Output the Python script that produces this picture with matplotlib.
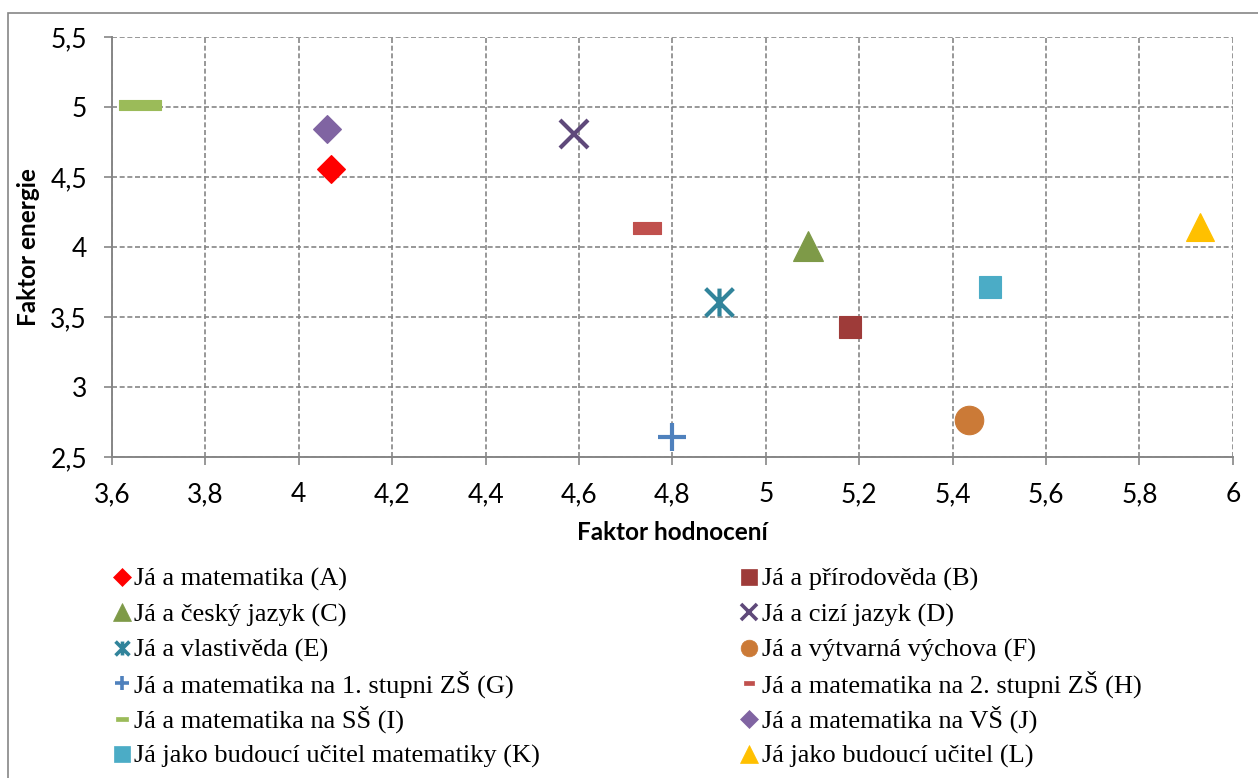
import matplotlib.pyplot as plt
from matplotlib.lines import Line2D
from matplotlib.patches import Rectangle
from matplotlib.path import Path
from matplotlib.ticker import MultipleLocator, FuncFormatter

# data
labels = ['Já a matematika (A)', 'Já a přírodověda (B)', 'Já a český jazyk (C)',
          'Já a cizí jazyk (D)', 'Já a vlastivěda (E)', 'Já a výtvarná výchova (F)',
          'Já a matematika na 1. stupni ZŠ (G)', 'Já a matematika na 2. stupni ZŠ (H)',
          'Já a matematika na SŠ (I)', 'Já a matematika na VŠ (J)',
          'Já jako budoucí učitel matematiky (K)', 'Já jako budoucí učitel (L)']
hodnoceni = [4.07, 5.18, 5.09, 4.59, 4.90, 5.435, 4.80, 4.745, 3.66, 4.06, 5.48, 5.93]
energie = [4.56, 3.43, 4.01, 4.81, 3.61, 2.765, 2.645, 4.135, 5.015, 4.84, 3.715, 4.145]

# custom marker shapes
asterisk = Path([(-1, -1), (1, 1), (-1, 1), (1, -1), (0, -1), (0, 1)],
                [Path.MOVETO, Path.LINETO, Path.MOVETO, Path.LINETO, Path.MOVETO, Path.LINETO])
def bar_marker(h):
    return Path([(-1, -h), (1, -h), (1, h), (-1, h), (-1, -h)],
                [Path.MOVETO, Path.LINETO, Path.LINETO, Path.LINETO, Path.CLOSEPOLY])

colors = ['#FF0000', '#9E3B39', '#7E9A48', '#5F497A', '#31849B', '#CB7A37',
          '#4F81BD', '#C0504D', '#9BBB59', '#8064A2', '#4BACC6', '#FFC000']
markers = ['D', 's', '^', 'x', asterisk, 'o', '+', bar_marker(0.46), bar_marker(0.24), 'D', 's', '^']
leg_markers = markers[:7] + [bar_marker(0.4), bar_marker(0.35)] + markers[9:]
sizes = [14, 16.5, 21, 20, 20, 20.5, 19.5, 20, 30, 14, 16.5, 20.5]
leg_sizes = [9.2, 11.5, 13, 12, 10, 12, 9.5, 6.5, 8, 9, 11.5, 13]
line_marker = [False, False, False, True, True, False, True, False, False, False, False, False]

fig = plt.figure(figsize=(12.58, 7.78), dpi=100)
ax = fig.add_axes([0.089, 0.4126, 0.891, 0.5398])

for i in range(len(labels)):
    if line_marker[i]:
        kw = dict(mfc='none', mec=colors[i], mew=3)
    else:
        kw = dict(mfc=colors[i], mec=colors[i], mew=0.8)
    ax.plot([hodnoceni[i]], [energie[i]], linestyle='none', marker=markers[i],
            ms=sizes[i], zorder=3, **kw)

ax.set_xlim(3.6, 6)
ax.set_ylim(2.5, 5.5)
ax.xaxis.set_major_locator(MultipleLocator(0.2))
ax.yaxis.set_major_locator(MultipleLocator(0.5))
fmt = FuncFormatter(lambda v, p: f'{v:g}'.replace('.', ','))
ax.xaxis.set_major_formatter(fmt)
ax.yaxis.set_major_formatter(fmt)

ax.grid(True, color='#868686', linestyle=(0, (3, 1.6)), linewidth=1.2, zorder=0)
ax.set_axisbelow(True)
for s in ['top', 'right']:
    ax.spines[s].set_visible(False)
for s in ['left', 'bottom']:
    ax.spines[s].set_color('#868686')
    ax.spines[s].set_linewidth(1.4)
ax.tick_params(direction='out', length=6, width=1.2, color='#868686',
               labelsize=19, pad=12)
for t in ax.get_xticklabels() + ax.get_yticklabels():
    t.set_fontfamily('Lato')

fig.text(672 / 1258, 1 - 533 / 778, 'Faktor hodnocení', fontsize=17.5,
         fontweight='bold', family='Lato', ha='center', va='center')
fig.text(29 / 1258, 1 - 247 / 778, 'Faktor energie', fontsize=17.5,
         fontweight='bold', family='Lato', ha='center', va='center', rotation=90)

# legend, two columns filled row by row with an even row pitch
for i in range(len(labels)):
    row, col = divmod(i, 2)
    yc = 577 + 35.4 * row
    mx, tx = (122, 134) if col == 0 else (749, 762)
    if line_marker[i]:
        kw = dict(mfc='none', mec=colors[i], mew=2.6)
    else:
        kw = dict(mfc=colors[i], mec=colors[i], mew=0.5)
    fig.add_artist(Line2D([mx / 1258], [1 - yc / 778], transform=fig.transFigure,
                          linestyle='none', marker=leg_markers[i], ms=leg_sizes[i], **kw))
    fig.text(tx / 1258, 1 - (yc + 9) / 778, labels[i], family='Liberation Serif',
             fontsize=19, ha='left', va='baseline')

# outer chart border
fig.patches.append(Rectangle((8 / 1258, -0.1), 1.2, 1.1 - 13 / 778,
                             transform=fig.transFigure, fill=False,
                             edgecolor='#868686', linewidth=1.2))

fig.savefig('out.png', dpi=100)
